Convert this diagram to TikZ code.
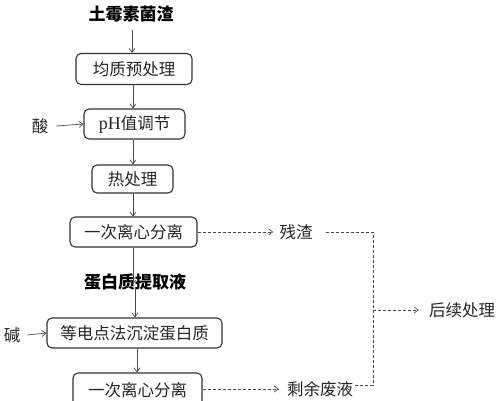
\documentclass[tikz,border=0pt]{standalone}
\usepackage{fontspec}
\setmainfont{Liberation Serif}
\newfontfamily\cjk{Noto Sans CJK SC}
\usetikzlibrary{arrows.meta}
\definecolor{ln}{HTML}{4A4A4A}
\definecolor{bx}{HTML}{333333}
\tikzset{
  box/.style={draw=bx, line width=1.1pt, rounded corners=5pt, inner sep=0pt, font=\cjk\fontsize{16.5}{18}\selectfont, text=black!85},
  lbl/.style={inner sep=0pt, font=\cjk\fontsize{16.5}{18}\selectfont, text=black!85},
  blbl/.style={inner sep=0pt, font=\cjk\bfseries\fontsize{17}{19}\selectfont, text=black},
  arr/.style={draw=ln, line width=0.7pt, -{Straight Barb[length=4pt,width=6pt]}},
  darr/.style={draw=ln, line width=0.7pt, dash pattern=on 3pt off 2pt, -{Straight Barb[length=4pt,width=6pt]}},
  dln/.style={draw=ln, line width=0.7pt, dash pattern=on 3pt off 2pt}
}
\begin{document}
\begin{tikzpicture}[x=1pt,y=-1pt]
\fill[white] (0,0) rectangle (500,401);
\useasboundingbox (0,0) rectangle (500,401);
\clip (0,0) rectangle (500,401);
\node[blbl] (title) at (131,14) {土霉素菌渣};
\coordinate (tstart) at (132,30);
\node[box, minimum width=116pt, minimum height=31pt] (b1) at (134,69) {均质预处理};
\node[box, minimum width=101pt, minimum height=30pt] (b2) at (134.5,124) {{\rmfamily\fontsize{18}{20}\selectfont pH}值调节};
\node[box, minimum width=81pt, minimum height=28pt] (b3) at (132.5,179) {热处理};
\node[box, minimum width=127pt, minimum height=30pt] (b4) at (133.5,232) {一次离心分离};
\node[blbl] (prot) at (135,282) {蛋白质提取液};
\node[box, minimum width=175pt, minimum height=30pt] (b5) at (134.5,333) {等电点法沉淀蛋白质};
\node[box, minimum width=129pt, minimum height=34pt] (b6) at (137.5,390) {一次离心分离};
\node[lbl] (acid) at (40,126) {酸};
\node[lbl] (base) at (12,335) {碱};
\node[lbl] (res) at (296,232) {残渣};
\node[lbl] (waste) at (320,389) {剩余废液};
\node[lbl] (post) at (462,310) {后续处理};
\coordinate (j1) at (373,232);
\coordinate (jm) at (373,310);
\coordinate (j2) at (373,385);
% vertical arrows
\draw[arr] (tstart) -- (tstart |- b1.north);
\draw[arr] (b1.south -| 133,0) -- (b2.north -| 133,0);
\draw[arr] (b2.south -| 133,0) -- (b3.north -| 133,0);
\draw[arr] (b3.south -| 133,0) -- (b4.north -| 133,0);
\draw[arr] (b4.south -| 133,0) -- ([yshift=-11pt]prot.north -| 133,0);
\draw[arr] ([yshift=3pt]prot.south -| 135,0) -- (b5.north -| 135,0);
\draw[arr] (b5.south -| 137,0) -- (b6.north -| 137,0);
% side arrows
\draw[arr] ([xshift=8pt]acid.east) -- (b2.west);
\draw[arr] ([xshift=7pt]base.east) -- (b5.west);
% dashed
\draw[darr] (b4.east) -- ([xshift=-6pt]res.west);
\draw[darr] (b6.east |- waste) -- ([xshift=-8pt]waste.west);
\draw[dln] ([xshift=13pt]res.east) -- (j1) -- (j2) -- ([xshift=2pt]waste.east |- j2);
\draw[darr] (jm) -- ([xshift=-10pt]post.west);
\end{tikzpicture}
\end{document}
